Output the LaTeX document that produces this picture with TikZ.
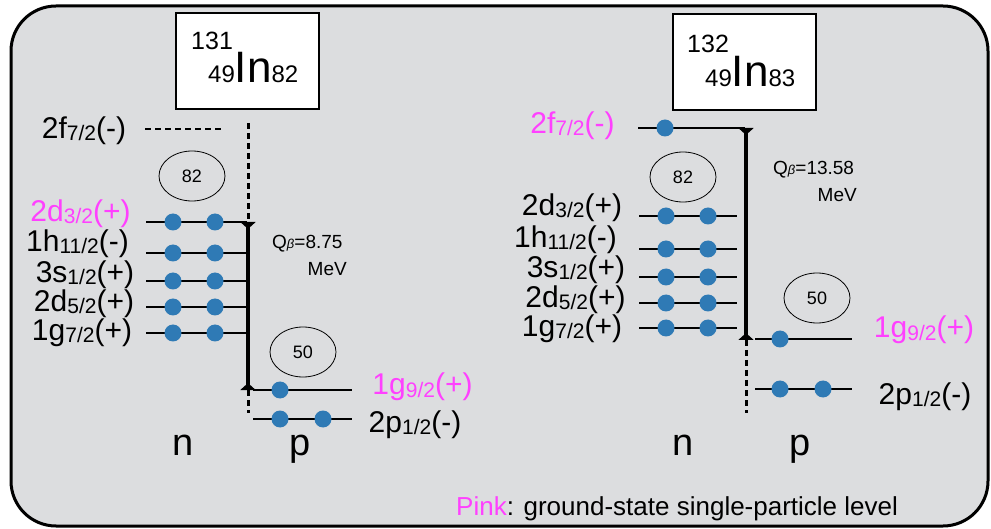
\documentclass[tikz,border=0pt]{standalone}
\usepackage{fontspec}
\setmainfont{Liberation Sans}
\usetikzlibrary{arrows.meta,shapes.geometric}
\definecolor{bgc}{RGB}{220,221,223}
\definecolor{pinkc}{RGB}{255,64,255}
\definecolor{dotc}{RGB}{47,122,181}
\newcommand{\lv}[3]{#1{\fontsize{21}{21}\selectfont\raisebox{-2pt}{#2}}#3}
\begin{document}
\begin{tikzpicture}[x=1pt,y=-1pt,
  lvl/.style={line width=1.5pt},
  elec/.style={circle,fill=dotc,inner sep=0pt,minimum size=17pt},
  lab/.style={font=\fontsize{30}{30}\selectfont,inner sep=0pt,anchor=base},
  shell/.style={ellipse,draw,line width=0.8pt,minimum width=66pt,minimum height=50pt,inner sep=0pt,font=\fontsize{18}{18}\selectfont},
  qarrow/.style={line width=4pt,{Triangle[reversed,width=15pt,length=7pt]}-{Triangle[reversed,width=15pt,length=7pt]}},
  dotline/.style={line width=3pt,dash pattern=on 6pt off 4pt},
  titlebox/.style={draw,fill=white,line width=1.5pt,minimum width=143pt,minimum height=96pt,inner sep=0pt},
  qlab/.style={font=\fontsize{19}{19}\selectfont,inner sep=0pt},
  nplab/.style={font=\fontsize{38}{38}\selectfont,inner sep=0pt,anchor=base},
]
\useasboundingbox (0,0) rectangle (991,529);
\draw[fill=bgc,line width=3pt,rounded corners=45pt] (11,6) rectangle (988,526) node[pos=0, inner sep=0pt] (frame) {};

% ===== Left: 131In =====
\node[titlebox] (boxL) at (247.5,61) {};
\node[anchor=base west,inner sep=0pt,font=\fontsize{25}{25}\selectfont] (aL) at (191,50) {131};
\node[anchor=base west,inner sep=0pt] (zL) at (208,83) {{\fontsize{24}{24}\selectfont 49}{\fontsize{44}{44}\selectfont In}{\fontsize{24}{24}\selectfont 82}};

% 2f7/2 dashed
\coordinate (fL1) at (145,129); \coordinate (fL2) at (222,129);
\draw[line width=2.5pt,dash pattern=on 6pt off 4pt] (fL1) -- (fL2);
\node[lab] (lfL) at (84,139) {\lv{2f}{7/2}{(-)}};

\node[shell] (s82L) at (192,176) {82};

% neutron levels left
\foreach \y/\n in {222/a,253/b,281/c,307/d,333/e}{
  \coordinate (nL\n1) at (146,\y); \coordinate (nL\n2) at (247,\y);
  \draw[lvl] (nL\n1) -- (nL\n2);
  \node[elec] (eL\n1) at (173,\y) {};
  \node[elec] (eL\n2) at (215,\y) {};
}
\node[lab,text=pinkc] (lLa) at (80.5,222) {\lv{2d}{3/2}{(+)}};
\node[lab] (lLb) at (77.5,252) {\lv{1h}{11/2}{(-)}};
\node[lab] (lLc) at (85,283) {\lv{3s}{1/2}{(+)}};
\node[lab] (lLd) at (84,312) {\lv{2d}{5/2}{(+)}};
\node[lab] (lLe) at (82,341) {\lv{1g}{7/2}{(+)}};

% vertical Q line left
\coordinate (vL0) at (248,123); \coordinate (vL1) at (248,222);
\coordinate (vL2) at (248,390); \coordinate (vL3) at (248,413);
\draw[dotline] (vL0) -- (vL1);
\draw[qarrow] (vL1) -- (vL2);
\draw[dotline] (vL2) -- (vL3);
\node[qlab,anchor=base west] (qL) at (272,249) {Q{\fontsize{13}{13}\selectfont\itshape β}=8.75};
\node[qlab,anchor=base east] (mL) at (347,276) {MeV};

% protons left
\node[shell] (s50L) at (303,352) {50};
\coordinate (pLa1) at (253,390); \coordinate (pLa2) at (352,390);
\draw[lvl] (pLa1) -- (pLa2);
\node[elec] (ePLa1) at (280,390) {};
\coordinate (pLb1) at (253,419); \coordinate (pLb2) at (352,419);
\draw[lvl] (pLb1) -- (pLb2);
\node[elec] (ePLb1) at (280,419) {};
\node[elec] (ePLb2) at (323,419) {};
\node[lab,text=pinkc] (lPLa) at (422.5,395) {\lv{1g}{9/2}{(+)}};
\node[lab] (lPLb) at (415,432) {\lv{2p}{1/2}{(-)}};

\node[nplab] (nL) at (183,455) {n};
\node[nplab] (pL) at (300,455) {p};

% ===== Right: 132In =====
\node[titlebox] (boxR) at (744.5,62) {};
\node[anchor=base west,inner sep=0pt,font=\fontsize{25}{25}\selectfont] (aR) at (687,53) {132};
\node[anchor=base west,inner sep=0pt] (zR) at (705,87) {{\fontsize{24}{24}\selectfont 49}{\fontsize{44}{44}\selectfont In}{\fontsize{24}{24}\selectfont 83}};

\coordinate (fR1) at (638,128); \coordinate (fR2) at (745,128);
\draw[lvl] (fR1) -- (fR2);
\node[elec] (eRf) at (665,128) {};
\node[lab,text=pinkc] (lfR) at (572.5,134) {\lv{2f}{7/2}{(-)}};

\node[shell] (s82R) at (683,177) {82};

\foreach \y/\n in {216/a,249/b,277/c,303/d,328/e}{
  \coordinate (nR\n1) at (639,\y); \coordinate (nR\n2) at (737,\y);
  \draw[lvl] (nR\n1) -- (nR\n2);
  \node[elec] (eR\n1) at (666,\y) {};
  \node[elec] (eR\n2) at (708,\y) {};
}
\node[lab] (lRa) at (572,216) {\lv{2d}{3/2}{(+)}};
\node[lab] (lRb) at (565.5,248) {\lv{1h}{11/2}{(-)}};
\node[lab] (lRc) at (576,278) {\lv{3s}{1/2}{(+)}};
\node[lab] (lRd) at (575.5,308) {\lv{2d}{5/2}{(+)}};
\node[lab] (lRe) at (572,337) {\lv{1g}{7/2}{(+)}};

\coordinate (vR1) at (746,128); \coordinate (vR2) at (746,340); \coordinate (vR3) at (746,413);
\draw[qarrow] (vR1) -- (vR2);
\draw[dotline] (vR2) -- (vR3);
\node[qlab,anchor=base west] (qR) at (773,175) {Q{\fontsize{13}{13}\selectfont\itshape β}=13.58};
\node[qlab,anchor=base east] (mR) at (857,202) {MeV};

\node[shell] (s50R) at (817,298) {50};
\coordinate (pRa1) at (755,339); \coordinate (pRa2) at (852,339);
\draw[lvl] (pRa1) -- (pRa2);
\node[elec] (ePRa1) at (780,339) {};
\coordinate (pRb1) at (755,389); \coordinate (pRb2) at (852,389);
\draw[lvl] (pRb1) -- (pRb2);
\node[elec] (ePRb1) at (780,389) {};
\node[elec] (ePRb2) at (823,389) {};
\node[lab,text=pinkc] (lPRa) at (924,338) {\lv{1g}{9/2}{(+)}};
\node[lab] (lPRb) at (925,404) {\lv{2p}{1/2}{(-)}};

\node[nplab] (nR) at (683,455) {n};
\node[nplab] (pR) at (800,455) {p};

% footer
\node[anchor=base west,inner sep=0pt,font=\fontsize{26}{26}\selectfont] (foot) at (456,515) {\textcolor{pinkc}{Pink}: ground-state single-particle level};
\end{tikzpicture}
\end{document}
